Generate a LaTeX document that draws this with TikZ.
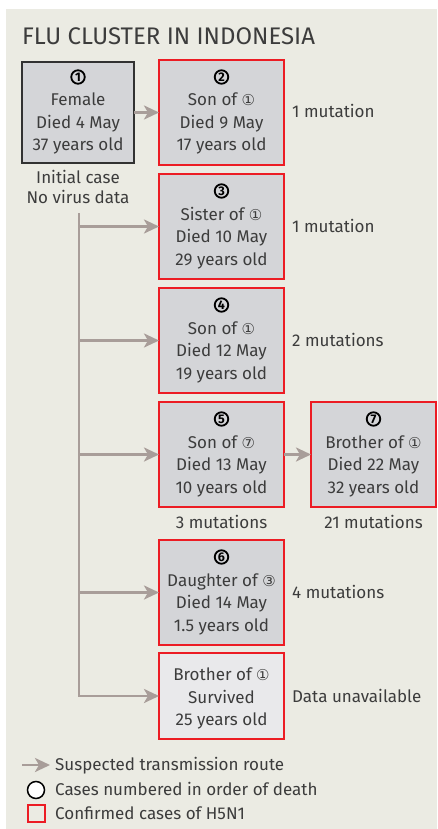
\documentclass[tikz,border=0pt]{standalone}
\usepackage{fontspec}
\setmainfont{Fira Sans}
\newfontfamily\symfont{DejaVu Sans}
\usetikzlibrary{arrows.meta,calc}
\definecolor{bgc}{RGB}{235,235,227}
\definecolor{boxfill}{RGB}{212,213,216}
\definecolor{lightfill}{RGB}{233,233,235}
\definecolor{redc}{RGB}{236,28,36}
\definecolor{arrc}{RGB}{168,157,153}
\definecolor{txtc}{RGB}{60,60,60}
\definecolor{darkb}{RGB}{50,50,50}
\newcommand\smc[1]{{\symfont\fontsize{15}{15}\selectfont #1}}
\tikzset{
  x=1pt, y=-1pt,
  box/.style={draw=redc, line width=2pt, fill=boxfill, minimum width=125pt, anchor=north west, inner sep=0pt, outer sep=0pt},
  blackbox/.style={draw=darkb, line width=1.5pt, minimum width=112pt},
  bnum/.style={circle, draw=black, line width=1.8pt, minimum size=13.5pt, inner sep=0pt, font=\fontsize{12.5}{13}\selectfont\bfseries, text=black},
  tline/.style={anchor=base, inner sep=0pt, text=txtc, font=\fontsize{17}{20}\selectfont},
  lab/.style={anchor=base west, inner sep=0pt, text=txtc, font=\fontsize{17}{20}\selectfont},
  arr/.style={draw=arrc, line width=2.8pt, -{Stealth[length=15pt,width=14pt,inset=4pt]}},
}
\newcommand\casebox[9]{%
  \node[box,#5,minimum height=#4] (#1) at (#2,#3) {};
  \node[bnum] (#1n) at ($(#1.center)+(0,-35.5)$) {#6};
  \node[tline] (#1a) at ($(#1.center)+(0,-6.5)$) {#7};
  \node[tline] (#1b) at ($(#1.center)+(0,16)$) {#8};
  \node[tline] (#1c) at ($(#1.center)+(0,38.5)$) {#9};
}
\begin{document}
\begin{tikzpicture}
\useasboundingbox (0,0) rectangle (437,829);
\fill[bgc] (6,9) rectangle (437,829);
\node[anchor=base west, inner sep=0pt, text=txtc, font=\fontsize{24}{28}\selectfont] (title) at (22,45) {FLU CLUSTER IN INDONESIA};

\casebox{b1}{22}{62}{101pt}{blackbox}{1}{Female}{Died 4 May}{37 years old}
\casebox{b2}{159}{60}{105pt}{}{2}{Son of \smc{①}}{Died 9 May}{17 years old}
\casebox{b3}{159}{174}{105pt}{}{3}{Sister of \smc{①}}{Died 10 May}{29 years old}
\casebox{b4}{159}{288}{105pt}{}{4}{Son of \smc{①}}{Died 12 May}{19 years old}
\casebox{b5}{159}{402}{105pt}{}{5}{Son of \smc{⑦}}{Died 13 May}{10 years old}
\casebox{b7}{311}{402}{105pt}{}{7}{Brother of \smc{①}}{Died 22 May}{32 years old}
\casebox{b6}{159}{540}{105pt}{}{6}{Daughter of \smc{③}}{Died 14 May}{1.5 years old}

\node[box, fill=lightfill, minimum height=86pt] (b8) at (159,653) {};
\node[tline] (b8a) at ($(b8.north)+(0,27)$) {Brother of \smc{①}};
\node[tline] (b8b) at ($(b8.north)+(0,50)$) {Survived};
\node[tline] (b8c) at ($(b8.north)+(0,72)$) {25 years old};

\node[tline] (init1) at ($(b1.south)+(0,20)$) {Initial case};
\node[tline] (init2) at ($(b1.south)+(0,41)$) {No virus data};

\node[lab] (m2) at (292,118) {1 mutation};
\node[lab] (m3) at (292,232) {1 mutation};
\node[lab] (m4) at (292,346) {2 mutations};
\node[tline] (m5) at ($(b5.south)+(0,21)$) {3 mutations};
\node[tline] (m7) at ($(b7.south)+(0,21)$) {21 mutations};
\node[lab] (m6) at (292,598) {4 mutations};
\node[lab] (m8) at (292,702) {Data unavailable};

\coordinate (tr) at (79,213);
\draw[arr] (b1.east) -- (b2.west);
\draw[arr] (b5.east) -- (b7.west);
\draw[arr] (tr) |- (b8.west);
\draw[arr] (tr |- b3.west) -- (b3.west);
\draw[arr] (tr |- b4.west) -- (b4.west);
\draw[arr] (tr |- b5.west) -- (b5.west);
\draw[arr] (tr |- b6.west) -- (b6.west);

% legend
\coordinate (la) at (22,765);
\coordinate (lb) at (50,765);
\draw[arr] (la) -- (lb);
\node[lab] (l1) at (55,770) {Suspected transmission route};
\node[circle, draw=black, line width=1.5pt, fill=white, minimum size=17pt, inner sep=0pt] (lc) at (36,790) {};
\node[lab] (l2) at (55,795) {Cases numbered in order of death};
\node[draw=redc, line width=2pt, minimum size=17pt, inner sep=0pt] (ls) at (36,813) {};
\node[lab] (l3) at (55,819) {Confirmed cases of H5N1};
\end{tikzpicture}
\end{document}
